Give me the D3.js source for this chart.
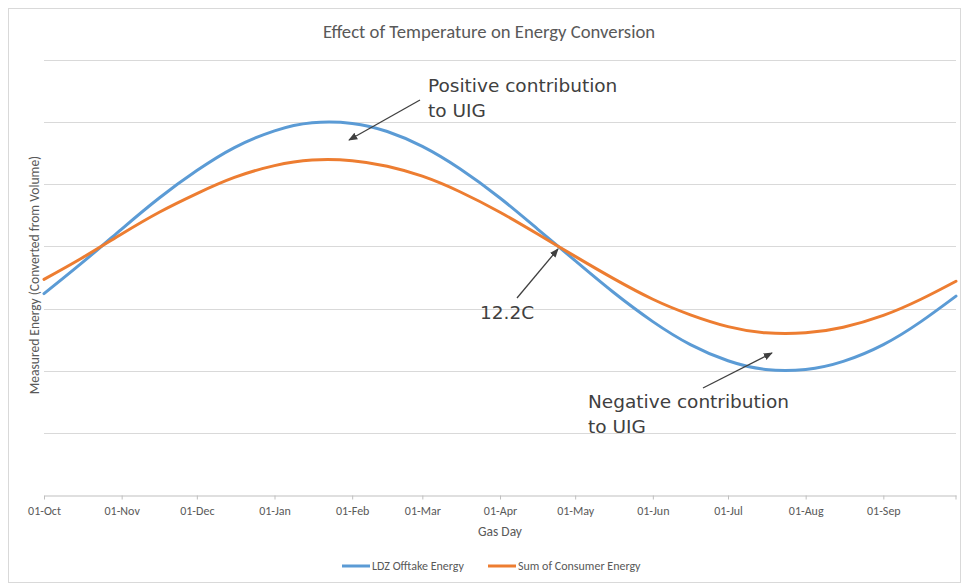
<!DOCTYPE html>
<html>
<head>
<meta charset="utf-8">
<script src="https://cdn.jsdelivr.net/npm/d3@7"></script>
<style>
  body { margin: 0; background: #fff; }
  text { font-family: Carlito, 'Liberation Sans Narrow', 'Liberation Sans', sans-serif; fill: #595959; }
  .note { font-family: 'DejaVu Sans', Verdana, sans-serif; fill: #404040; }
</style>
</head>
<body>
<div id="chart"></div>
<script>
// gas days (half-monthly readings)
const gasDays = ['2014-10-01', '2014-10-16', '2014-11-01', '2014-11-16', '2014-12-01', '2014-12-16',
  '2015-01-01', '2015-01-16', '2015-02-01', '2015-02-15', '2015-03-01', '2015-03-16',
  '2015-04-01', '2015-04-16', '2015-05-01', '2015-05-16', '2015-06-01', '2015-06-16',
  '2015-07-01', '2015-07-16', '2015-08-01', '2015-08-16', '2015-09-01', '2015-09-16', '2015-09-30'];
const ldzOfftake = [32.4, 37.3, 42.8, 47.8, 52.2, 55.9, 58.6, 59.9, 59.8, 58.5, 56.1, 52.5,
  47.8, 42.8, 37.7, 32.7, 27.9, 24.2, 21.6, 20.2, 20.2, 21.5, 24.2, 27.9, 32.0];
const consumerSum = [34.7, 38.1, 42.0, 45.5, 48.5, 51.1, 53.0, 53.9, 53.8, 52.9, 51.3, 48.8,
  45.5, 42.0, 38.4, 34.9, 31.5, 29.0, 27.1, 26.1, 26.1, 27.0, 28.9, 31.5, 34.4];
const monthTicks = ['2014-10-01', '2014-11-01', '2014-12-01', '2015-01-01', '2015-02-01', '2015-03-01',
  '2015-04-01', '2015-05-01', '2015-06-01', '2015-07-01', '2015-08-01', '2015-09-01'];
const gridValues = [10, 20, 30, 40, 50, 60, 70];
const seriesNames = ['LDZ Offtake Energy', 'Sum of Consumer Energy'];
const seriesColors = ['#5b9bd5', '#ed7d31'];

const width = 962;
const height = 584;
const parse = d3.timeParse('%Y-%m-%d');
const plotLeft = 44, plotRight = 956, plotTop = 60, plotBottom = 495;

const svg = d3.select('#chart').append('svg')
  .attr('width', width)
  .attr('height', height);

svg.append('rect')
  .attr('x', 8.5).attr('y', 8.5)
  .attr('width', width - 10).attr('height', height - 10)
  .attr('fill', 'none')
  .attr('stroke', '#d9d9d9');

const x = d3.scaleTime()
  .domain([parse(gasDays[0]), parse(gasDays[gasDays.length - 1])])
  .range([plotLeft, plotRight]);
const y = d3.scaleLinear()
  .domain([0, 70])
  .range([plotBottom, plotTop]);

// gridlines
svg.append('g')
  .selectAll('line')
  .data(gridValues)
  .enter()
  .append('line')
  .attr('x1', plotLeft)
  .attr('x2', plotRight)
  .attr('y1', function(d) { return Math.round(y(d)) + 0.5; })
  .attr('y2', function(d) { return Math.round(y(d)) + 0.5; })
  .attr('stroke', '#d9d9d9');

// x axis
const xAxis = svg.append('g')
  .attr('transform', 'translate(0,' + (Math.round(y(0)) + 0.5) + ')')
  .call(d3.axisBottom(x)
    .tickValues(monthTicks.map(parse))
    .tickFormat(d3.timeFormat('%d-%b'))
    .tickSizeInner(4)
    .tickSizeOuter(0));
xAxis.select('.domain').attr('stroke', '#bfbfbf');
xAxis.selectAll('.tick line').attr('stroke', '#bfbfbf');
xAxis.selectAll('.tick text')
  .attr('y', 11)
  .style('font-size', '12px')
  .attr('fill', '#595959');
// closing tick at the end of the axis
xAxis.append('line')
  .attr('x1', plotRight).attr('x2', plotRight)
  .attr('y1', 0).attr('y2', 4)
  .attr('stroke', '#bfbfbf');

// series
const line = d3.line()
  .x(function(d) { return x(d.date); })
  .y(function(d) { return y(d.value); })
  .curve(d3.curveNatural);

[ldzOfftake, consumerSum].forEach(function(values, i) {
  const pts = values.map(function(v, j) { return {date: parse(gasDays[j]), value: v}; });
  svg.append('path')
    .datum(pts)
    .attr('d', line)
    .attr('fill', 'none')
    .attr('stroke', seriesColors[i])
    .attr('stroke-width', 3)
    .attr('stroke-linecap', 'round');
});

// titles
svg.append('text')
  .attr('x', 489).attr('y', 38)
  .attr('text-anchor', 'middle')
  .style('font-size', '18.7px')
  .text('Effect of Temperature on Energy Conversion');

svg.append('text')
  .attr('x', (plotLeft + plotRight) / 2).attr('y', 536)
  .attr('text-anchor', 'middle')
  .style('font-size', '13.5px')
  .text('Gas Day');

svg.append('text')
  .attr('transform', 'translate(39,275) rotate(-90)')
  .attr('text-anchor', 'middle')
  .style('font-size', '13.5px')
  .text('Measured Energy (Converted from Volume)');

// legend
const legendX = [342, 488];
seriesNames.forEach(function(name, i) {
  svg.append('line')
    .attr('x1', legendX[i]).attr('x2', legendX[i] + 28)
    .attr('y1', 566).attr('y2', 566)
    .attr('stroke', seriesColors[i])
    .attr('stroke-width', 3);
  svg.append('text')
    .attr('x', legendX[i] + 30).attr('y', 570)
    .style('font-size', '12px')
    .text(name);
});

// annotations
svg.append('defs').append('marker')
  .attr('id', 'head')
  .attr('viewBox', '0 0 10 10')
  .attr('refX', 9).attr('refY', 5)
  .attr('markerWidth', 7).attr('markerHeight', 7)
  .attr('orient', 'auto')
  .append('path')
  .attr('d', 'M0,1 L10,5 L0,9 Z')
  .attr('fill', '#404040');

const arrows = [
  [420, 100, 349, 140],
  [517, 298, 558, 249],
  [703, 388, 772, 353]
];
arrows.forEach(function(a) {
  svg.append('line')
    .attr('x1', a[0]).attr('y1', a[1])
    .attr('x2', a[2]).attr('y2', a[3])
    .attr('stroke', '#404040')
    .attr('stroke-width', 1.3)
    .attr('marker-end', 'url(#head)');
});

function note(tx, ty, lines) {
  const t = svg.append('text')
    .attr('class', 'note')
    .attr('x', tx).attr('y', ty)
    .style('font-size', '18.5px');
  lines.forEach(function(l, i) {
    t.append('tspan').attr('x', tx).attr('dy', i === 0 ? 0 : 25).text(l);
  });
}
note(428, 92, ['Positive contribution', 'to UIG']);
note(480, 319, ['12.2C']);
note(588, 408, ['Negative contribution', 'to UIG']);
</script>
</body>
</html>
